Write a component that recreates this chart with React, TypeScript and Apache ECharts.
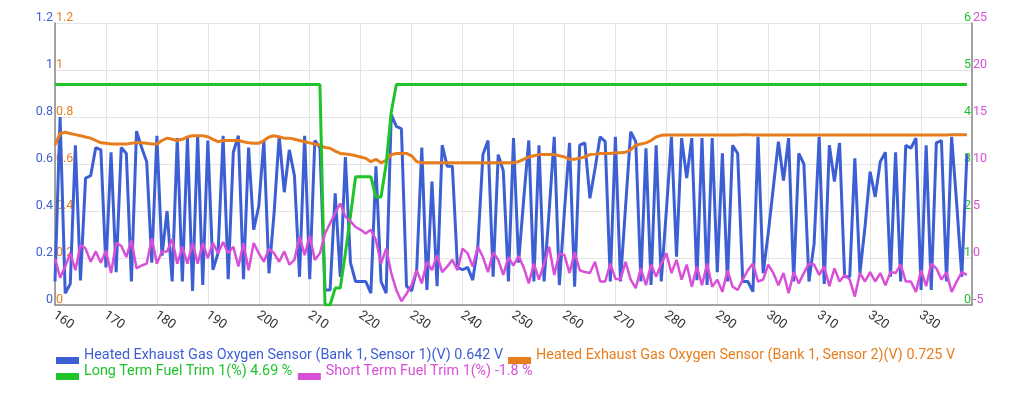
import React, { useEffect, useRef } from "react";
import * as echarts from "echarts";

const START_TIME = 160;
const xTickLabels = ["160", "170", "180", "190", "200", "210", "220", "230", "240", "250", "260", "270", "280", "290", "300", "310", "320", "330"];

const seriesNames = [
  "Heated Exhaust Gas Oxygen Sensor (Bank 1, Sensor 1)(V) 0.642 V",
  "Heated Exhaust Gas Oxygen Sensor (Bank 1, Sensor 2)(V) 0.725 V",
  "Long Term Fuel Trim 1(%) 4.69 %",
  "Short Term Fuel Trim 1(%) -1.8 %",
];

// one sample per second, t = 160 .. 339
const o2Sensor1 = [
  0.10, 0.80, 0.05, 0.09, 0.68, 0.105, 0.54, 0.55, 0.67, 0.66,
  0.16, 0.65, 0.14, 0.67, 0.645, 0.10, 0.74, 0.67, 0.61, 0.18,
  0.72, 0.21, 0.40, 0.10, 0.71, 0.10, 0.71, 0.06, 0.72, 0.085,
  0.70, 0.15, 0.22, 0.72, 0.11, 0.65, 0.72, 0.11, 0.67, 0.32,
  0.42, 0.70, 0.135, 0.39, 0.72, 0.48, 0.66, 0.55, 0.12, 0.72,
  0.11, 0.70, 0.67, 0.064, 0.064, 0.475, 0.12, 0.63, 0.18, 0.10,
  0.10, 0.10, 0.05, 0.59, 0.10, 0.05, 0.81, 0.76, 0.75, 0.08,
  0.06, 0.15, 0.67, 0.064, 0.525, 0.08, 0.68, 0.59, 0.59, 0.16,
  0.15, 0.16, 0.106, 0.25, 0.64, 0.70, 0.12, 0.64, 0.57, 0.10,
  0.71, 0.18, 0.45, 0.70, 0.10, 0.68, 0.10, 0.40, 0.716, 0.085,
  0.40, 0.69, 0.078, 0.68, 0.69, 0.454, 0.58, 0.716, 0.695, 0.10,
  0.716, 0.10, 0.42, 0.737, 0.695, 0.10, 0.667, 0.085, 0.68, 0.10,
  0.40, 0.716, 0.206, 0.71, 0.54, 0.71, 0.106, 0.71, 0.085, 0.71,
  0.14, 0.645, 0.10, 0.68, 0.645, 0.10, 0.10, 0.057, 0.716, 0.135,
  0.305, 0.50, 0.695, 0.53, 0.71, 0.10, 0.645, 0.60, 0.10, 0.26,
  0.716, 0.09, 0.68, 0.525, 0.69, 0.12, 0.12, 0.624, 0.135, 0.333,
  0.567, 0.46, 0.61, 0.65, 0.12, 0.65, 0.10, 0.68, 0.667, 0.71,
  0.064, 0.68, 0.064, 0.69, 0.70, 0.10, 0.716, 0.43, 0.12, 0.642,
];

const o2Sensor2 = [
  0.68, 0.73, 0.735, 0.73, 0.725, 0.72, 0.715, 0.71, 0.70, 0.69,
  0.688, 0.685, 0.685, 0.685, 0.685, 0.688, 0.69, 0.69, 0.688, 0.685,
  0.685, 0.70, 0.71, 0.705, 0.70, 0.705, 0.715, 0.72, 0.72, 0.72,
  0.716, 0.705, 0.695, 0.70, 0.70, 0.70, 0.70, 0.695, 0.69, 0.688,
  0.688, 0.70, 0.715, 0.72, 0.715, 0.71, 0.71, 0.705, 0.70, 0.695,
  0.69, 0.685, 0.68, 0.67, 0.667, 0.655, 0.645, 0.643, 0.64, 0.635,
  0.63, 0.624, 0.61, 0.62, 0.605, 0.615, 0.64, 0.645, 0.645, 0.645,
  0.635, 0.61, 0.605, 0.605, 0.605, 0.605, 0.605, 0.605, 0.605, 0.605,
  0.605, 0.605, 0.605, 0.605, 0.605, 0.605, 0.605, 0.605, 0.605, 0.605,
  0.605, 0.61, 0.62, 0.63, 0.635, 0.64, 0.64, 0.64, 0.64, 0.635,
  0.63, 0.62, 0.62, 0.625, 0.63, 0.64, 0.642, 0.645, 0.645, 0.645,
  0.648, 0.648, 0.65, 0.66, 0.68, 0.685, 0.69, 0.70, 0.715, 0.722,
  0.723, 0.723, 0.723, 0.723, 0.723, 0.723, 0.723, 0.723, 0.723, 0.723,
  0.723, 0.723, 0.723, 0.723, 0.723, 0.725, 0.725, 0.723, 0.723, 0.723,
  0.723, 0.723, 0.723, 0.723, 0.723, 0.723, 0.723, 0.723, 0.723, 0.723,
  0.723, 0.723, 0.723, 0.723, 0.723, 0.723, 0.723, 0.723, 0.723, 0.723,
  0.723, 0.723, 0.723, 0.723, 0.723, 0.723, 0.723, 0.723, 0.723, 0.723,
  0.723, 0.723, 0.723, 0.723, 0.723, 0.723, 0.725, 0.725, 0.725, 0.725,
];

const longTermTrim = [
  4.69, 4.69, 4.69, 4.69, 4.69, 4.69, 4.69, 4.69, 4.69, 4.69,
  4.69, 4.69, 4.69, 4.69, 4.69, 4.69, 4.69, 4.69, 4.69, 4.69,
  4.69, 4.69, 4.69, 4.69, 4.69, 4.69, 4.69, 4.69, 4.69, 4.69,
  4.69, 4.69, 4.69, 4.69, 4.69, 4.69, 4.69, 4.69, 4.69, 4.69,
  4.69, 4.69, 4.69, 4.69, 4.69, 4.69, 4.69, 4.69, 4.69, 4.69,
  4.69, 4.69, 4.69, 0, 0, 0.36, 0.36, 1.1, 1.9, 2.73,
  2.73, 2.73, 2.73, 2.3, 2.3, 3.0, 4.1, 4.69, 4.69, 4.69,
  4.69, 4.69, 4.69, 4.69, 4.69, 4.69, 4.69, 4.69, 4.69, 4.69,
  4.69, 4.69, 4.69, 4.69, 4.69, 4.69, 4.69, 4.69, 4.69, 4.69,
  4.69, 4.69, 4.69, 4.69, 4.69, 4.69, 4.69, 4.69, 4.69, 4.69,
  4.69, 4.69, 4.69, 4.69, 4.69, 4.69, 4.69, 4.69, 4.69, 4.69,
  4.69, 4.69, 4.69, 4.69, 4.69, 4.69, 4.69, 4.69, 4.69, 4.69,
  4.69, 4.69, 4.69, 4.69, 4.69, 4.69, 4.69, 4.69, 4.69, 4.69,
  4.69, 4.69, 4.69, 4.69, 4.69, 4.69, 4.69, 4.69, 4.69, 4.69,
  4.69, 4.69, 4.69, 4.69, 4.69, 4.69, 4.69, 4.69, 4.69, 4.69,
  4.69, 4.69, 4.69, 4.69, 4.69, 4.69, 4.69, 4.69, 4.69, 4.69,
  4.69, 4.69, 4.69, 4.69, 4.69, 4.69, 4.69, 4.69, 4.69, 4.69,
  4.69, 4.69, 4.69, 4.69, 4.69, 4.69, 4.69, 4.69, 4.69, 4.69,
];

const shortTermTrim = [
  0.0, -2.1, -0.9, 0.5, -1.3, 1.4, 1.0, -0.4, 0.7, -0.5,
  0.8, -1.6, 1.6, 1.3, 0.1, 1.9, -1.1, -0.8, -0.6, 2.1,
  -0.6, 0.7, 0.7, 2.0, -0.6, 1.2, -0.6, 1.6, -0.6, 1.6,
  0.0, 1.6, 0.5, 1.7, 0.5, 1.2, -0.9, 1.6, -1.3, 1.6,
  0.5, -0.4, 1.0, 0.5, -0.4, 0.7, -0.7, -0.2, 2.3, 0.3,
  2.4, -0.2, 0.5, 2.6, 3.7, 4.8, 5.8, 4.4, 3.9, 3.3,
  3.0, 2.6, 3.0, 1.9, -0.6, 1.0, -1.6, -3.4, -4.6, -3.8,
  -2.9, -1.3, -2.7, -0.4, -1.3, 0.3, -1.5, -0.9, -0.2, -1.3,
  1.0, 0.5, -0.9, 1.2, 0.1, -1.5, 0.6, -0.2, -1.8, 0.1,
  -0.8, 0.2, -1.0, -2.7, -0.6, -2.3, -0.6, 1.2, -1.8, 0.5,
  0.3, -1.6, 0.6, -1.3, -1.5, -1.6, -0.4, -2.5, -2.5, -0.6,
  -2.2, -2.3, -0.4, -2.3, -3.2, -1.1, -2.9, -0.7, -2.0, -0.6,
  0.5, -1.6, -0.2, -2.3, -0.7, -3.05, -0.9, -2.9, -0.6, -3.05,
  -2.3, -3.6, -1.3, -3.05, -3.4, -2.3, -1.3, -0.6, -2.5, -2.3,
  -0.7, -1.6, -2.9, -1.6, -3.75, -1.5, -2.7, -1.6, -0.6, -0.7,
  -1.8, -0.9, -3.0, -1.1, -2.5, -1.8, -2.3, -4.1, -1.6, -2.5,
  -1.5, -2.5, -1.6, -2.9, -1.5, -1.6, -0.7, -2.5, -2.5, -3.6,
  -1.3, -3.0, -0.6, -1.1, -2.3, -1.5, -3.6, -2.5, -1.5, -1.8,
];

const BLUE = "#3d5fd4";
const ORANGE = "#e67e1e";
const GREEN = "#1fc42a";
const PINK = "#d84fd8";
const FONT = "Roboto";
// legend swatch sitting low beside the text, as in the original
const SWATCH = "path://M0,0 M0,12 L23,12 L23,19 L0,19 Z";

export default function App() {
  const ref = useRef<HTMLDivElement>(null);

  useEffect(() => {
    const chart = echarts.init(ref.current!, null, { renderer: "svg" });
    const pairs = (vals: number[]) => vals.map((v, i) => [START_TIME + i, v]);
    const colors = [BLUE, ORANGE, GREEN, PINK];
    const values = [o2Sensor1, o2Sensor2, longTermTrim, shortTermTrim];
    const axisIdx = [0, 1, 2, 3];

    const legendRow = (idx: number[], top: number) => ({
      left: 51,
      top,
      orient: "horizontal",
      icon: SWATCH,
      itemWidth: 23,
      itemHeight: 19,
      itemGap: 5,
      textStyle: { fontSize: 14.35, fontFamily: FONT },
      data: idx.map((i) => ({ name: seriesNames[i], textStyle: { color: colors[i] } })),
    });

    chart.setOption({
      animation: false,
      grid: { left: 55, right: 52, top: 23, bottom: 94, containLabel: false },
      legend: [legendRow([0, 1], 340), legendRow([2, 3], 356)],
      xAxis: {
        type: "value",
        min: 160,
        max: 340,
        interval: 10,
        axisLine: { show: true, onZero: false, lineStyle: { color: "#888", width: 1.5 } },
        axisTick: { show: false },
        splitLine: { show: true, lineStyle: { color: "#e4e4e4" } },
        axisLabel: {
          rotate: -35,
          margin: 8,
          fontSize: 13,
          fontFamily: FONT,
          color: "#333",
          formatter: (v: number) => (xTickLabels.includes(String(v)) ? String(v) : ""),
        },
      },
      yAxis: [
        {
          type: "value",
          position: "left",
          min: 0,
          max: 1.2,
          interval: 0.2,
          axisLine: { show: true, lineStyle: { color: "#888", width: 1.5 } },
          axisTick: { show: false },
          splitLine: { show: true, lineStyle: { color: "#e4e4e4" } },
          axisLabel: { color: BLUE, fontSize: 12.5, fontFamily: FONT, margin: 2, verticalAlign: "bottom" },
        },
        {
          type: "value",
          position: "left",
          min: 0,
          max: 1.2,
          interval: 0.2,
          axisLine: { show: false },
          axisTick: { show: false },
          splitLine: { show: false },
          axisLabel: { inside: true, color: ORANGE, fontSize: 12.5, fontFamily: FONT, margin: 1, verticalAlign: "bottom" },
        },
        {
          type: "value",
          position: "right",
          min: 0,
          max: 6,
          interval: 1,
          axisLine: { show: true, lineStyle: { color: "#888", width: 1.5 } },
          axisTick: { show: false },
          splitLine: { show: false },
          axisLabel: { inside: true, color: GREEN, fontSize: 12.5, fontFamily: FONT, margin: 1, verticalAlign: "bottom" },
        },
        {
          type: "value",
          position: "right",
          min: -5,
          max: 25,
          interval: 5,
          axisLine: { show: false },
          axisTick: { show: false },
          splitLine: { show: false },
          axisLabel: { color: PINK, fontSize: 12.5, fontFamily: FONT, margin: 1, verticalAlign: "bottom" },
        },
      ],
      series: seriesNames.map((n, i) => ({
        name: n,
        type: "line",
        yAxisIndex: axisIdx[i],
        data: pairs(values[i]),
        showSymbol: false,
        symbol: "none",
        color: colors[i],
        lineStyle: { color: colors[i], width: i === 3 ? 2.5 : 3 },
      })),
    });

    return () => chart.dispose();
  }, []);

  return (
    <div
      ref={ref}
      style={{ position: "fixed", left: 0, top: 0, width: 1024, height: 399 }}
    />
  );
}
